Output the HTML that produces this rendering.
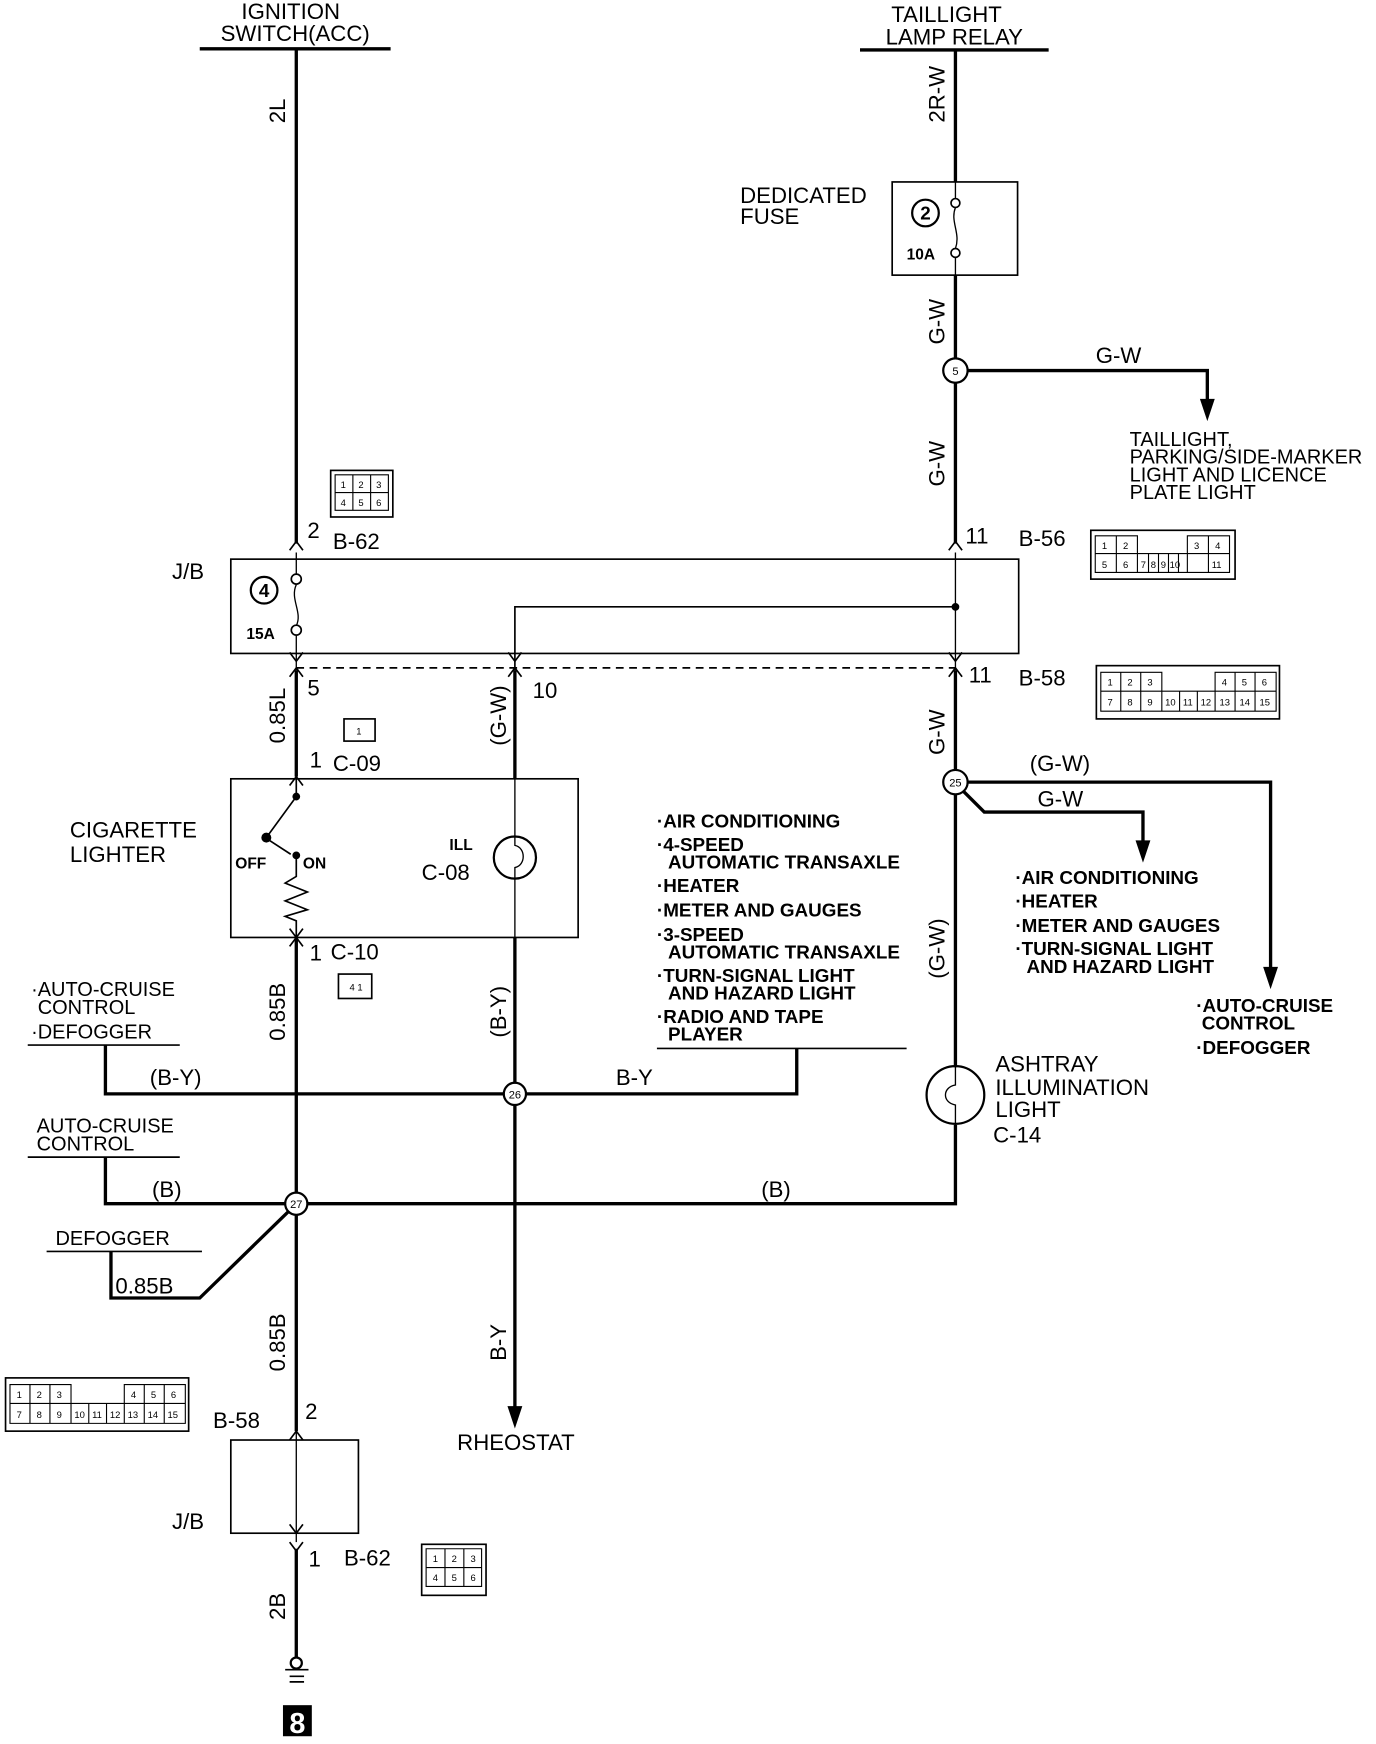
<!DOCTYPE html>
<html><head><meta charset="utf-8"><style>
html,body{margin:0;padding:0;background:#fff;}
svg{display:block;}
text{font-family:"Liberation Sans Narrow","Liberation Sans",sans-serif;fill:#000;font-size:20px;}
.s{font-size:17px;font-weight:bold;}
.t text{font-size:8.5px;font-weight:normal;}
</style></head><body>
<svg width="1376" height="1744" viewBox="0 0 1240 1572" preserveAspectRatio="none" xmlns="http://www.w3.org/2000/svg">
<g fill="none" stroke="#000">
<line x1="180" y1="44" x2="352" y2="44" stroke-width="3"/>
<line x1="775" y1="45" x2="945" y2="45" stroke-width="3"/>
<line x1="267" y1="44" x2="267" y2="490" stroke-width="3"/>
<path d="M261 496 L267 488 L273 496" stroke-width="1.5"/>
<line x1="861" y1="45" x2="861" y2="164" stroke-width="3"/>
<rect x="804" y="164" width="113" height="84" stroke-width="1.5"/>
<circle cx="834" cy="192" r="12" stroke-width="2"/>
<circle cx="861" cy="183" r="4" stroke-width="1.5"/>
<circle cx="861" cy="228" r="4" stroke-width="1.5"/>
<path d="M861 164 V179 M861 187 C856 200 866 210 861 224 M861 232 V248" stroke-width="1.2"/>
<line x1="861" y1="248" x2="861" y2="490" stroke-width="3"/>
<path d="M855 496 L861 488 L867 496" stroke-width="1.5"/>
<circle cx="861" cy="334" r="11" stroke-width="2" fill="#fff"/>
<polyline points="872,334 1088,334 1088,365" stroke-width="3"/>
<rect x="208" y="504" width="710" height="85" stroke-width="1.5"/>
<circle cx="238" cy="532" r="12" stroke-width="2"/>
<line x1="267" y1="498" x2="267" y2="517" stroke-width="1.2"/>
<circle cx="267" cy="522" r="4.5" stroke-width="1.5"/>
<path d="M267 527 C261 540 273 552 267 564" stroke-width="1.2"/>
<circle cx="267" cy="568" r="4.5" stroke-width="1.5"/>
<line x1="267" y1="573" x2="267" y2="604" stroke-width="1.2"/>
<line x1="861" y1="498" x2="861" y2="604" stroke-width="1.2"/>
<polyline points="861,547 464,547 464,604" stroke-width="1.5"/>
<circle cx="861" cy="547" r="3" fill="#000"/>
<path d="M458 588 L464 596 L470 588 M261 588 L267 596 L273 588 M855 588 L861 596 L867 588" stroke-width="1.5"/>
<line x1="267" y1="602" x2="861" y2="602" stroke-width="1.5" stroke-dasharray="7,5"/>
<path d="M261 610 L267 602 L273 610 M458 610 L464 602 L470 610 M855 610 L861 602 L867 610" stroke-width="1.5"/>
<line x1="267" y1="604" x2="267" y2="700" stroke-width="3"/>
<path d="M261 708 L267 700 L273 708" stroke-width="1.5"/>
<rect x="208" y="702" width="313" height="143" stroke-width="1.5"/>
<path d="M267 702 V718 L240 755 M242 757 L262 770" stroke-width="1.5"/>
<circle cx="267" cy="718" r="3" fill="#000"/>
<circle cx="240" cy="755" r="4" fill="#000"/>
<circle cx="267" cy="771" r="3" fill="#000"/>
<path d="M267 771 V790 L257 796 L277 804 L257 812 L277 820 L257 826 L267 830 V845" stroke-width="1.5"/>
<path d="M261 837 L267 845 L273 837" stroke-width="1.5"/>
<circle cx="464" cy="773" r="19" stroke-width="2"/>
<path d="M464 702 V762 C474 764 474 780 464 782 V845" stroke-width="1.2"/>
<line x1="464" y1="604" x2="464" y2="702" stroke-width="3"/>
<line x1="464" y1="845" x2="464" y2="1270" stroke-width="3"/>
<path d="M458 1268 L464 1286 L470 1268 Z" fill="#000" stroke-width="1"/>
<line x1="267" y1="845" x2="267" y2="1290" stroke-width="3"/>
<path d="M261 853 L267 845 L273 853" stroke-width="1.5"/>
<line x1="25" y1="942" x2="162" y2="942" stroke-width="1.5"/>
<polyline points="95,942 95,986 718,986 718,945" stroke-width="3"/>
<line x1="592" y1="945" x2="817" y2="945" stroke-width="1.5"/>
<circle cx="464" cy="986" r="10" stroke-width="2" fill="#fff"/>
<line x1="25" y1="1043" x2="162" y2="1043" stroke-width="1.5"/>
<polyline points="95,1043 95,1085 861,1085 861,1014" stroke-width="3"/>
<line x1="42" y1="1128" x2="182" y2="1128" stroke-width="1.5"/>
<polyline points="100,1128 100,1170 180,1170 262,1090" stroke-width="3"/>
<circle cx="267" cy="1085" r="10" stroke-width="2" fill="#fff"/>
<rect x="208" y="1298" width="115" height="84" stroke-width="1.5"/>
<line x1="267" y1="1290" x2="267" y2="1390" stroke-width="1.2"/>
<path d="M261 1298 L267 1290 L273 1298 M261 1374 L267 1382 L273 1374 M261 1390 L267 1398 L273 1390" stroke-width="1.5"/>
<line x1="267" y1="1396" x2="267" y2="1494" stroke-width="3"/>
<circle cx="267" cy="1499" r="5" stroke-width="2"/>
<path d="M257 1505 H278 M261 1511 H274 M261 1516 H274" stroke-width="1.5"/>
<line x1="861" y1="604" x2="861" y2="962" stroke-width="3"/>
<circle cx="861" cy="705" r="11" stroke-width="2" fill="#fff"/>
<polyline points="872,705 1145,705 1145,875" stroke-width="3"/>
<path d="M1139 872 L1145 890 L1151 872 Z" fill="#000"/>
<polyline points="868,713 887,732 1030,732 1030,760" stroke-width="3"/>
<path d="M1024 758 L1030 776 L1036 758 Z" fill="#000"/>
<path d="M1082 360 L1088 378 L1094 360 Z" fill="#000"/>
<circle cx="861" cy="987" r="26" stroke-width="2"/>
<path d="M861 961 V978 C849 980 849 994 861 996 V1014" stroke-width="1.2"/>
<rect x="298" y="424" width="56" height="42" stroke-width="1.5"/>
<path d="M302 428 H350 V460 H302 Z M318 428 V460 M334 428 V460 M302 444 H350" stroke-width="1"/>
<rect x="983" y="478" width="130" height="44" stroke-width="1.5"/>
<path d="M987 483 H1025 V516 H987 Z M1006 483 V516 M1070 483 H1108 V516 H1070 Z M1089 483 V516 M1025 499 H1070 M1025 516 H1070 M987 499 H1025 M1070 499 H1108 M1035 499 V516 M1044 499 V516 M1053 499 V516 M1062 499 V516" stroke-width="1"/>
<rect x="988" y="600" width="165" height="48" stroke-width="1.5"/>
<path d="M992 606 H1047 V641 H992 Z M1010 606 V641 M1028 606 V641 M1095 606 H1150 V641 H1095 Z M1113 606 V641 M1131 606 V641 M992 623 H1150 M1047 623 V641 M1063 623 V641 M1079 623 V641 M1047 641 H1095" stroke-width="1"/>
<rect x="310" y="648" width="28" height="20" stroke-width="1.5"/>
<rect x="305" y="878" width="30" height="22" stroke-width="1.5"/>
<rect x="5" y="1242" width="165" height="48" stroke-width="1.5"/>
<path d="M9 1248 H64 V1283 H9 Z M27 1248 V1283 M45 1248 V1283 M112 1248 H167 V1283 H112 Z M130 1248 V1283 M148 1248 V1283 M9 1265 H167 M64 1265 V1283 M80 1265 V1283 M96 1265 V1283 M64 1283 H112" stroke-width="1"/>
<rect x="380" y="1392" width="58" height="46" stroke-width="1.5"/>
<path d="M384 1396 H434 V1430 H384 Z M401 1396 V1430 M418 1396 V1430 M384 1413 H434" stroke-width="1"/>
</g>
<rect x="255" y="1537" width="26" height="28" fill="#000"/>
<text x="268" y="1562" text-anchor="middle" style="fill:#fff;font-weight:bold;font-size:26px">8</text>

<text x="262" y="17" text-anchor="middle">IGNITION</text>
<text x="266" y="37" text-anchor="middle">SWITCH(ACC)</text>
<text x="853" y="20" text-anchor="middle">TAILLIGHT</text>
<text x="860" y="40" text-anchor="middle">LAMP RELAY</text>
<text transform="translate(257,100) rotate(-90)" text-anchor="middle">2L</text>
<text transform="translate(851,85) rotate(-90)" text-anchor="middle">2R-W</text>
<text x="667" y="183">DEDICATED</text>
<text x="667" y="202">FUSE</text>
<text x="834" y="198" text-anchor="middle" class="s">2</text>
<text x="817" y="234" class="s" style="font-size:14px">10A</text>
<text transform="translate(851,290) rotate(-90)" text-anchor="middle">G-W</text>
<text x="1008" y="327" text-anchor="middle">G-W</text>
<text x="861" y="338" text-anchor="middle" style="font-size:10px">5</text>
<text x="1018" y="402" style="font-size:18px">TAILLIGHT,</text>
<text x="1018" y="418" style="font-size:18px">PARKING/SIDE-MARKER</text>
<text x="1018" y="434" style="font-size:18px">LIGHT AND LICENCE</text>
<text x="1018" y="450" style="font-size:18px">PLATE LIGHT</text>
<text transform="translate(851,418) rotate(-90)" text-anchor="middle">G-W</text>
<text x="277" y="485">2</text>
<text x="300" y="495">B-62</text>
<text x="870" y="490">11</text>
<text x="918" y="492">B-56</text>
<text x="155" y="522">J/B</text>
<text x="238" y="538" text-anchor="middle" class="s">4</text>
<text x="222" y="576" class="s" style="font-size:14px">15A</text>
<text x="277" y="627">5</text>
<text x="480" y="629">10</text>
<text x="873" y="615">11</text>
<text x="918" y="618">B-58</text>
<text transform="translate(257,645) rotate(-90)" text-anchor="middle">0.85L</text>
<text transform="translate(456,645) rotate(-90)" text-anchor="middle">(G-W)</text>
<text transform="translate(851,660) rotate(-90)" text-anchor="middle">G-W</text>
<text x="279" y="692">1</text>
<text x="300" y="695">C-09</text>
<text x="63" y="755">CIGARETTE</text>
<text x="63" y="777">LIGHTER</text>
<text x="212" y="783" class="s" style="font-size:14px">OFF</text>
<text x="273" y="783" class="s" style="font-size:14px">ON</text>
<text x="405" y="766" class="s" style="font-size:14px">ILL</text>
<text x="380" y="793">C-08</text>
<text x="861" y="709" text-anchor="middle" style="font-size:10px">25</text>
<text x="928" y="695">(G-W)</text>
<text x="935" y="727">G-W</text>
<text x="592" y="746" class="s">·AIR CONDITIONING</text>
<text x="592" y="767" class="s">·4-SPEED</text>
<text x="602" y="783" class="s">AUTOMATIC TRANSAXLE</text>
<text x="592" y="804" class="s">·HEATER</text>
<text x="592" y="826" class="s">·METER AND GAUGES</text>
<text x="592" y="848" class="s">·3-SPEED</text>
<text x="602" y="864" class="s">AUTOMATIC TRANSAXLE</text>
<text x="592" y="885" class="s">·TURN-SIGNAL LIGHT</text>
<text x="602" y="901" class="s">AND HAZARD LIGHT</text>
<text x="592" y="922" class="s">·RADIO AND TAPE</text>
<text x="602" y="938" class="s">PLAYER</text>
<text x="915" y="797" class="s">·AIR CONDITIONING</text>
<text x="915" y="818" class="s">·HEATER</text>
<text x="915" y="840" class="s">·METER AND GAUGES</text>
<text x="915" y="861" class="s">·TURN-SIGNAL LIGHT</text>
<text x="925" y="877" class="s">AND HAZARD LIGHT</text>
<text x="1078" y="912" class="s">·AUTO-CRUISE</text>
<text x="1083" y="928" class="s">CONTROL</text>
<text x="1078" y="950" class="s">·DEFOGGER</text>
<text x="279" y="866">1</text>
<text x="298" y="865">C-10</text>
<text x="28" y="898" style="font-size:18px">·AUTO-CRUISE</text>
<text x="34" y="914" style="font-size:18px">CONTROL</text>
<text x="28" y="936" style="font-size:18px">·DEFOGGER</text>
<text transform="translate(257,912) rotate(-90)" text-anchor="middle">0.85B</text>
<text transform="translate(456,912) rotate(-90)" text-anchor="middle">(B-Y)</text>
<text transform="translate(851,855) rotate(-90)" text-anchor="middle">(G-W)</text>
<text x="135" y="978">(B-Y)</text>
<text x="555" y="978">B-Y</text>
<text x="464" y="990" text-anchor="middle" style="font-size:10px">26</text>
<text x="897" y="966">ASHTRAY</text>
<text x="897" y="987">ILLUMINATION</text>
<text x="897" y="1007">LIGHT</text>
<text x="895" y="1030">C-14</text>
<text x="33" y="1021" style="font-size:18px">AUTO-CRUISE</text>
<text x="33" y="1037" style="font-size:18px">CONTROL</text>
<text x="137" y="1079">(B)</text>
<text x="686" y="1079">(B)</text>
<text x="267" y="1089" text-anchor="middle" style="font-size:10px">27</text>
<text x="50" y="1122" style="font-size:18px">DEFOGGER</text>
<text x="104" y="1166">0.85B</text>
<text transform="translate(257,1210) rotate(-90)" text-anchor="middle">0.85B</text>
<text transform="translate(456,1210) rotate(-90)" text-anchor="middle">B-Y</text>
<text x="192" y="1287">B-58</text>
<text x="275" y="1279">2</text>
<text x="412" y="1307">RHEOSTAT</text>
<text x="155" y="1378">J/B</text>
<text x="278" y="1412">1</text>
<text x="310" y="1411">B-62</text>
<text transform="translate(257,1448) rotate(-90)" text-anchor="middle">2B</text>
<g class="t">
<text x="307" y="440">1</text><text x="323" y="440">2</text><text x="339" y="440">3</text>
<text x="307" y="456">4</text><text x="323" y="456">5</text><text x="339" y="456">6</text>
<text x="993" y="495">1</text><text x="1012" y="495">2</text><text x="1076" y="495">3</text><text x="1095" y="495">4</text>
<text x="993" y="512">5</text><text x="1012" y="512">6</text><text x="1028" y="512">7</text><text x="1037" y="512">8</text><text x="1046" y="512">9</text><text x="1054" y="512">10</text><text x="1092" y="512">11</text>
<text x="998" y="618">1</text><text x="1016" y="618">2</text><text x="1034" y="618">3</text><text x="1101" y="618">4</text><text x="1119" y="618">5</text><text x="1137" y="618">6</text>
<text x="998" y="636">7</text><text x="1016" y="636">8</text><text x="1034" y="636">9</text><text x="1050" y="636">10</text><text x="1066" y="636">11</text><text x="1082" y="636">12</text><text x="1099" y="636">13</text><text x="1117" y="636">14</text><text x="1135" y="636">15</text>
<text x="321" y="662">1</text><text x="315" y="893">4 1</text>
<text x="15" y="1260">1</text><text x="33" y="1260">2</text><text x="51" y="1260">3</text><text x="118" y="1260">4</text><text x="136" y="1260">5</text><text x="154" y="1260">6</text>
<text x="15" y="1278">7</text><text x="33" y="1278">8</text><text x="51" y="1278">9</text><text x="67" y="1278">10</text><text x="83" y="1278">11</text><text x="99" y="1278">12</text><text x="115" y="1278">13</text><text x="133" y="1278">14</text><text x="151" y="1278">15</text>
<text x="390" y="1408">1</text><text x="407" y="1408">2</text><text x="424" y="1408">3</text>
<text x="390" y="1425">4</text><text x="407" y="1425">5</text><text x="424" y="1425">6</text>
</g>
</svg>
</body></html>
